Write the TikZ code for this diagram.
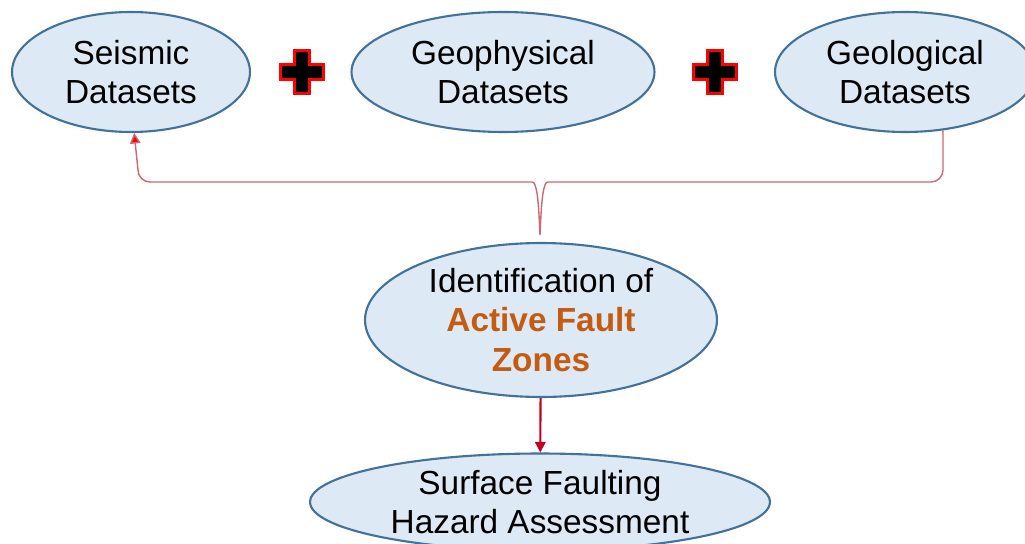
\documentclass[tikz,border=0pt]{standalone}
\usepackage{fontspec}
\setmainfont{Liberation Sans}
\usepackage{tikz}
\usepackage{xcolor}
\usetikzlibrary{shapes.geometric,arrows.meta}
\definecolor{ovalfill}{RGB}{221,233,245}
\definecolor{ovaledge}{RGB}{65,113,156}
\definecolor{faultorange}{RGB}{197,90,17}
\definecolor{bracered}{RGB}{205,105,115}
\definecolor{arrowred}{RGB}{192,0,32}
\tikzset{
  oval/.style={ellipse,draw=ovaledge,fill=ovalfill,line width=1.2pt,inner sep=0pt,
    align=center,font=\fontsize{19}{22.5}\selectfont},
  plussign/.pic={\filldraw[draw=red,fill=black,line width=1.6pt]
    (-7.5,-21.5) -- (7.5,-21.5) -- (7.5,-7.5) -- (21.5,-7.5) -- (21.5,7.5) -- (7.5,7.5) -- (7.5,21.5)
    -- (-7.5,21.5) -- (-7.5,7.5) -- (-21.5,7.5) -- (-21.5,-7.5) -- (-7.5,-7.5) -- cycle;}
}
\begin{document}
\begin{tikzpicture}[x=0.02cm,y=-0.02cm]
\useasboundingbox (0,0) rectangle (1025,544);
\node[oval,minimum width=4.76cm,minimum height=2.4cm] (seismic) at (131,72) {Seismic\\Datasets};
\node[oval,minimum width=6.06cm,minimum height=2.4cm] (geophys) at (503,72) {Geophysical\\Datasets};
\node[oval,minimum width=5.2cm,minimum height=2.4cm] (geolog) at (905,72) {Geological\\Datasets};
\pic at (302,72) {plussign};
\pic at (715,72) {plussign};
\node[oval,minimum width=7.04cm,minimum height=3.08cm] (afz) at (541,320)
  {Identification of\\\textbf{\textcolor{faultorange}{Active Fault}}\\\textbf{\textcolor{faultorange}{Zones}}};
\node[oval,minimum width=9.2cm,minimum height=1.94cm] (sfha) at (540,502) {Surface Faulting\\Hazard Assessment};
\coordinate (tip) at (540,235);
\draw[bracered,line width=0.8pt,-{Triangle[width=6pt,length=6pt,fill=red]}]
  (geolog.-57) -- (943,170) to[out=-90,in=0] (931,182) -- (548,182)
  .. controls (543,182) and (541.5,200) .. (tip)
  .. controls (538.5,200) and (537,182) .. (532,182) -- (150,182)
  to[out=180,in=-90] (138,170) -- (seismic.-87);
\draw[arrowred,line width=1.2pt,-{Triangle[width=6pt,length=6pt]}] (afz) -- (sfha);
\end{tikzpicture}
\end{document}
